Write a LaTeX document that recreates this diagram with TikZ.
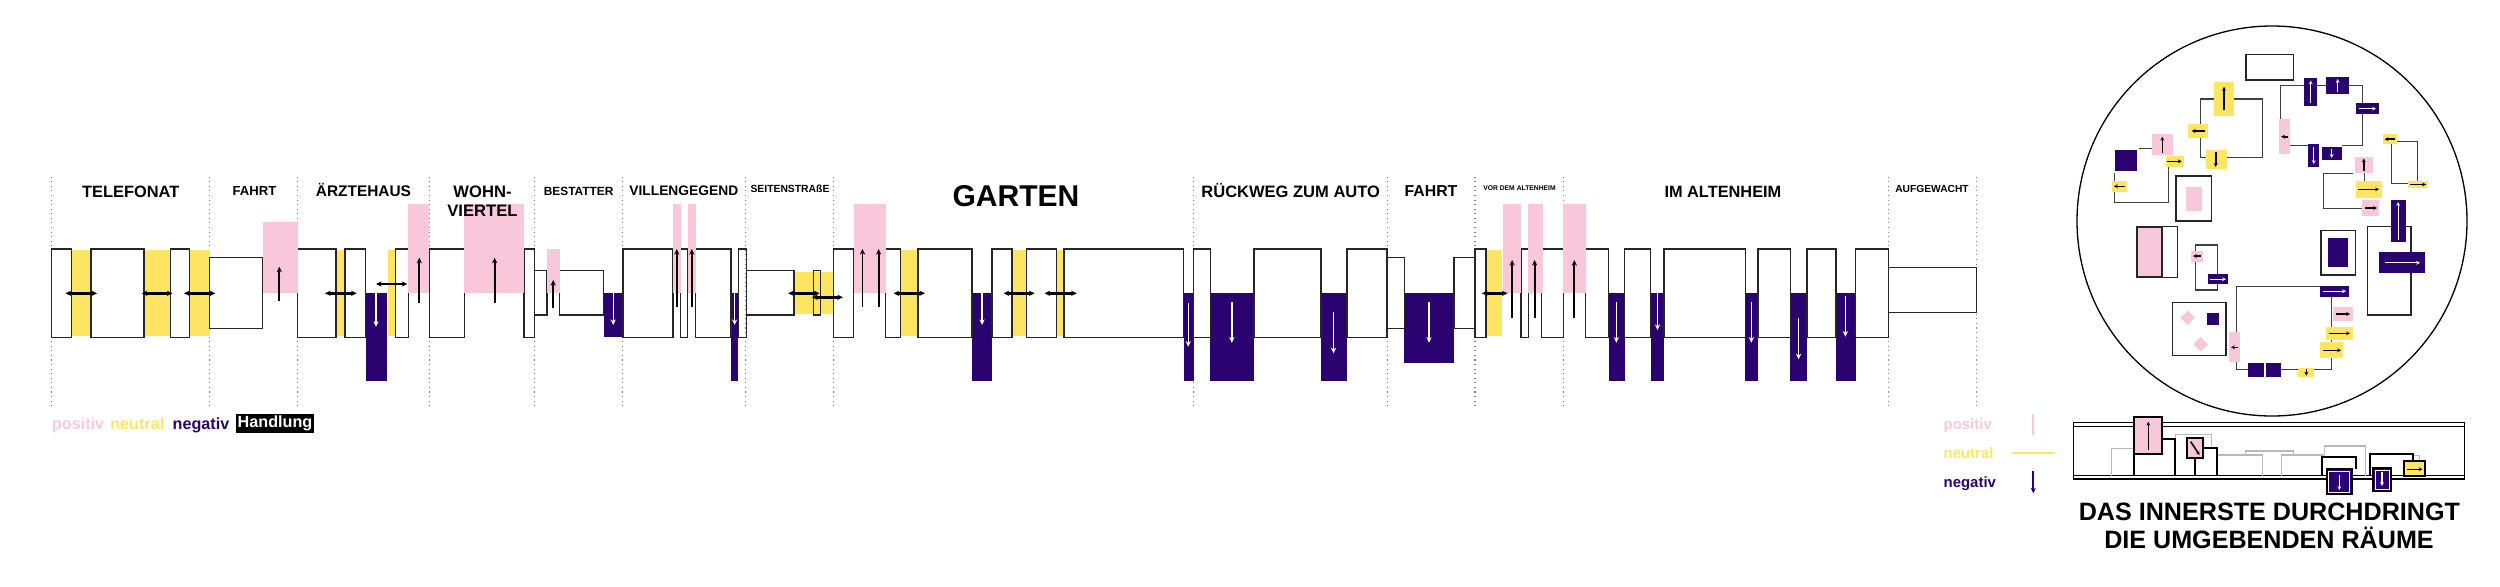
\documentclass[tikz,border=0pt]{standalone}
\usepackage{fontspec}
\setmainfont{Liberation Sans}
\usetikzlibrary{arrows.meta}
\definecolor{pinkc}{RGB}{248,199,217}
\definecolor{yelc}{RGB}{253,229,99}
\definecolor{navyc}{RGB}{42,3,112}
\begin{document}
\begin{tikzpicture}[x=0.2mm,y=-0.2mm,>={Stealth[length=3.2pt,width=3pt]},
    box/.style={draw=black!85,line width=0.75pt},
    posfill/.style={fill=pinkc},
    neufill/.style={fill=yelc},
    negfill/.style={fill=navyc},
    sep/.style={gray,dotted,line width=0.6pt},
    hand/.style={<->,line width=1.4pt},
    upar/.style={->,line width=1.1pt},
    wdn/.style={->,white,line width=0.8pt},
    link/.style={draw=black!75,line width=0.6pt},
    carr/.style={->,line width=0.9pt,>={Stealth[length=2.2pt,width=2.2pt]}},
    cwarr/.style={->,white,line width=0.7pt,>={Stealth[length=2.2pt,width=2.2pt]}},
    lbl/.style={font=\fontsize{#1}{#1}\selectfont\bfseries,inner sep=0pt,anchor=base}]
    \useasboundingbox (0,0) rectangle (2500,586);
    % separators
    \foreach \x in {51.8,209.6,297.8,429.3,534.6,622.9,745.4,833.6,1193.6,1387.1,1475,1563.2,1888.2,1976.4}
      \draw[sep] (\x,176.7) -- (\x,406);
    % neutral and negative
    \foreach \a/\b in {71.8/91.1,143.9/170.4,189.6/209.6,336/345,387.7/395.7,900.7/917.9,1012.1/1026.4,1056.8/1063.9,1487/1502}
      \fill[neufill] (\a,250) rectangle (\b,335.7);
    \fill[neufill] (794,271.7) rectangle (833.6,314);
    \foreach \a/\b in {365.7/386.7,731/738.2,972.1/992.1,1183.6/1193.6,1210.4/1253.9,1321/1347.1,1608.6/1624.6,1650.7/1663.9,1745.4/1757.9,1790.4/1807.1,1836.1/1855.7}
      \fill[negfill] (\a,293.3) rectangle (\b,381);
    \fill[negfill] (603.6,293.3) rectangle (622.9,337.3);
    \fill[negfill] (1404.3,293.3) rectangle (1453.9,363.3);
    % rooms
    \foreach \a/\b in {51.8/71.8,91.1/143.9,170.4/189.6,297.8/336,345/365.7,395.7/408.3,429.3/464.3,524/534.6,622.9/672.9,680.4/687.5,695.4/731,738.2/746.4,833.6/853.6,885.7/900.7,917.9/972.1,992.1/1012.1,1026.4/1056.8,1063.9/1183.6,1193.6/1210.4,1253.9/1321,1347.1/1387.1,1475/1486,1521/1528.2,1541.8/1563.2,1585.7/1608.6,1624.6/1650.7,1663.9/1745.4,1757.9/1790.4,1807.1/1836.1,1855.7/1888.2}
      \draw[box] (\a,249) rectangle (\b,337.3);
    \foreach \a/\b in {209.6/262.3,1387.1/1404.3,1453.9/1475}
      \draw[box] (\a,257.7) rectangle (\b,328.7);
    \foreach \a/\b in {534.6/547,559.6/603.6,746.4/794,813.2/820.7}
      \draw[box] (\a,270.7) rectangle (\b,315);
    \draw[box] (1888.2,267.3) rectangle (1976.4,312.3);
    % positive
    \foreach \a/\b in {408.3/429.3,464.3/524,672.9/681,687.5/696,853.6/885.7,1502.9/1521,1527.5/1542.5,1563.2/1585.7}
      \fill[posfill] (\a,204.3) rectangle (\b,293.3);
    \fill[posfill] (262.8,222) rectangle (297.7,293.3);
    \fill[posfill] (547,249) rectangle (559.6,293.3);
    % actions
    \foreach \y/\a/\b in {293.3/65.4/97.1,293.3/141.8/172.5,293.3/184/215.4,293.3/325/356.7,284/376/407.3,293.3/788.2/819.6,297.3/812/842.9,293.3/893.6/925,293.3/1003.6/1034.6,293.3/1044.6/1076.8,293.3/1481.8/1507.5}
      \draw[hand] (\a,\y) -- (\b,\y);
    \foreach \x/\a/\b in {279.3/300.7/266.7,419.3/303.3/257.7,494.6/303.3/257.7,553.2/308/280,676.8/306.7/249,691.8/306.7/249,862.5/306.7/249,878.6/306.7/249,1512.1/318.3/260,1534.6/318.3/260,1574.3/318.3/260}
      \draw[upar] (\x,\a) -- (\x,\b);
    \foreach \x/\a/\b in {376/292.7/326.7,613.2/293.3/325,734.6/293.3/325,982.1/293.3/325,1188.2/303.3/346.7,1231.8/301.7/342.7,1333.6/312.3/353.3,1429/301.7/342.7,1616.4/301.7/342.7,1657.5/293.3/330,1751.4/301.7/342.7,1798.6/318.3/359.3,1845.4/295.7/336.7}
      \draw[wdn] (\x,\a) -- (\x,\b);
    % scene titles
    \node[lbl=9.33] (telefonat) at (130.7,197.3) {TELEFONAT};
    \node[lbl=7.45] (fahrta) at (254.5,195.7) {FAHRT};
    \node[lbl=8.77] (aerztehaus) at (363.5,196.9) {ÄRZTEHAUS};
    \node[lbl=9.45] (wohn) at (482.5,197.3) {WOHN-};
    \node[lbl=9.45] (viertel) at (482.4,216) {VIERTEL};
    \node[lbl=6.77] (bestatter) at (578.6,195.7) {BESTATTER};
    \node[lbl=7.85] (villengegend) at (683.8,195.7) {VILLENGEGEND};
    \node[lbl=5.9] (seitenstrasse) at (790,192.3) {SEITENSTRAßE};
    \node[lbl=17.1] (garten) at (1016,206.7) {GARTEN};
    \node[lbl=9.4] (rueckweg) at (1290.7,197.3) {RÜCKWEG ZUM AUTO};
    \node[lbl=9] (fahrtb) at (1431,196.7) {FAHRT};
    \node[lbl=3.85] (vordem) at (1519.5,190) {VOR DEM ALTENHEIM};
    \node[lbl=9.3] (imaltenheim) at (1722.9,197.3) {IM ALTENHEIM};
    \node[lbl=5.83] (aufgewacht) at (1932,192.7) {AUFGEWACHT};
    % legend
    \node[lbl=9.2,text=pinkc,anchor=base west] (positiv) at (51.7,429.3) {positiv};
    \node[lbl=9.2,text=yelc,anchor=base west] (neutral) at (110,429.3) {neutral};
    \node[lbl=9.2,text=navyc,anchor=base west] (negativ) at (172.3,429.3) {negativ};
    \node[lbl=9.2,text=white,fill=black,anchor=center,minimum width=15.6mm,minimum height=3.74mm] (handlung) at (275,423.4) {Handlung};
    \node[lbl=8.5,text=pinkc,anchor=base west] (rpositiv) at (1943.3,429.3) {positiv};
    \node[lbl=8.5,text=yelc,anchor=base west] (rneutral) at (1943.3,458.5) {neutral};
    \node[lbl=8.5,text=navyc,anchor=base west] (rnegativ) at (1943.3,487.5) {negativ};
    \draw[pinkc,line width=1.3pt] (2033.3,414) -- (2033.3,435);
    \draw[yelc,line width=1.3pt] (2011.7,453.3) -- (2055,453.3);
    \draw[navyc,->,line width=1.3pt] (2033.3,471) -- (2033.3,493.3);
    % circle
    \draw[line width=0.75pt] (2272,221) circle[radius=39mm];
    \draw[link] (2214.3,99) -| (2200,157.7) -- (2206,157.7);
    \draw[link] (2234.3,99) -| (2262.3,157.7) -- (2226.7,157.7);
    \draw[link] (2139.3,148.3) -- (2152,148.3);
    \draw[link] (2168.3,166.7) |- (2114.3,202.3) -- (2114.3,173.3);
    \draw[link] (2195,250.7) |- (2217.7,245) -- (2217.7,274);
    \draw[link] (2195,261.7) |- (2217.7,290) -- (2217.7,284.3);
    \draw[link] (2236.7,332.3) |- (2320,286.5);
    \draw[link] (2236.7,361.7) |- (2248.3,369.3);
    \draw[link] (2281,369.3) -- (2298.3,369.3);
    \draw[link] (2314.3,369.3) -| (2331.7,358.3);
    \draw[link] (2331.7,296.7) -- (2331.7,342.3);
    \draw[link] (2353.3,173.3) -| (2323.3,208.3) -- (2362.3,208.3);
    \draw[link] (2364,172.7) -- (2364,181);
    \draw[link] (2396.7,141.7) -| (2417.3,180.7);
    \draw[link] (2391.7,144) |- (2408.3,183.3);
    \draw[link] (2317.3,85.7) -- (2326,85.7);
    \draw[link] (2349.3,85.7) -| (2362.3,103.3);
    \draw[link] (2362.3,114) |- (2341.7,145.7);
    \draw[link] (2304,85.7) -| (2280.7,119.3);
    \draw[link] (2290,145.7) -- (2308.3,145.7);
    \draw[box] (2246,54.7) rectangle (2293.3,80);
    \draw[box] (2176,176) rectangle (2211.7,221);
    \draw[box] (2172.3,302.3) rectangle (2226,355.7);
    \draw[box] (2321,230.7) rectangle (2355.7,275);
    \draw[box] (2161.7,226.7) rectangle (2177.7,277.3);
    \draw[box] (2367.3,226.7) rectangle (2411,315);
    \fill[posfill] (2186,186.7) rectangle (2202.3,211);
    \filldraw[posfill,draw=black!85,line width=1.2pt] (2136.7,226.7) rectangle (2161.7,277.3);
    \fill[negfill] (2328.3,238.3) rectangle (2348.3,266.7);
    \fill[posfill] (2187.7,310.4) -- (2195,317.7) -- (2187.7,325) -- (2180.4,317.7) -- cycle;
    \fill[posfill] (2200.7,337) -- (2208,344.3) -- (2200.7,351.6) -- (2193.4,344.3) -- cycle;
    \fill[negfill] (2207.3,313.3) rectangle (2218.7,325);
    % yellow rooms in the circle
    \fill[neufill] (2214.3,82) rectangle (2234.3,115.7);
    \draw[carr] (2224,110) -- (2224,86.7);
    \fill[neufill] (2188.3,124.3) rectangle (2208.3,138.3);
    \draw[carr] (2205,131) -- (2191.7,131);
    \fill[neufill] (2206,150) rectangle (2226.7,169);
    \draw[carr] (2215.7,152) -- (2215.7,167);
    \fill[neufill] (2166,156) rectangle (2184,166.7);
    \draw[carr] (2167.3,161.3) -- (2181.7,161.3);
    \fill[neufill] (2112.3,181) rectangle (2127.3,191.7);
    \draw[carr] (2125,186.3) -- (2114,186.3);
    \fill[neufill] (2298.3,367.7) rectangle (2314.3,376.7);
    \draw[carr] (2306.3,368.7) -- (2306.3,375.7);
    \fill[neufill] (2320,342.3) rectangle (2343.3,358.3);
    \draw[carr] (2323,350.3) -- (2341,350.3);
    \fill[neufill] (2326,326.7) rectangle (2352.7,340);
    \draw[carr] (2329,333.3) -- (2350,333.3);
    \fill[neufill] (2355.7,181) rectangle (2381.7,197.7);
    \draw[carr] (2358,189.3) -- (2379,189.3);
    \fill[neufill] (2382.7,134.3) rectangle (2396.7,144);
    \draw[carr] (2395,139.2) -- (2384.5,139.2);
    \fill[neufill] (2408.3,180.7) rectangle (2427.7,188.3);
    \draw[carr] (2410,184.5) -- (2426,184.5);
    % pink rooms in the circle
    \fill[posfill] (2152,134) rectangle (2172.7,155);
    \draw[carr] (2162.3,152.7) -- (2162.3,136.7);
    \fill[posfill] (2191,250.7) rectangle (2202.7,261.7);
    \draw[carr] (2200.7,256) -- (2193,256);
    \fill[posfill] (2229,332.3) rectangle (2240,361.7);
    \draw[carr] (2238,347.3) -- (2231,347.3);
    \fill[posfill] (2332.7,307.3) rectangle (2352.7,320.7);
    \draw[carr] (2336,314) -- (2350,314);
    \fill[posfill] (2355,156.7) rectangle (2372.7,172.7);
    \draw[carr] (2363.8,170.5) -- (2363.8,158.5);
    \fill[posfill] (2362.3,200) rectangle (2379,216);
    \draw[carr] (2365,208) -- (2377,208);
    \fill[posfill] (2279.3,119.3) rectangle (2290,154);
    \draw[carr] (2288,136.7) -- (2281,136.7);
    % navy rooms in the circle
    \fill[negfill] (2115.3,150) rectangle (2137.3,171);
    \fill[negfill] (2207.7,274) rectangle (2228.3,284.3);
    \draw[cwarr] (2210,279.2) -- (2226,279.2);
    \fill[negfill] (2320,285.7) rectangle (2349.3,296.7);
    \draw[cwarr] (2323,291.2) -- (2346,291.2);
    \fill[negfill] (2248.3,363.3) rectangle (2264,376.7);
    \fill[negfill] (2265.7,363.3) rectangle (2281,376.7);
    \fill[negfill] (2390.7,200) rectangle (2405.7,242.3);
    \draw[cwarr] (2398.2,240) -- (2398.2,202);
    \fill[negfill] (2379.3,252.3) rectangle (2425,273.3);
    \draw[cwarr] (2385,262.8) -- (2420,262.8);
    \fill[negfill] (2304,77.7) rectangle (2317.3,106);
    \draw[cwarr] (2310.7,103) -- (2310.7,80.5);
    \fill[negfill] (2326,76.7) rectangle (2349.3,94);
    \draw[cwarr] (2337.7,92) -- (2337.7,79);
    \fill[negfill] (2355.7,103.3) rectangle (2379,114);
    \draw[cwarr] (2359,108.7) -- (2376,108.7);
    \fill[negfill] (2308.3,144) rectangle (2319.3,166.7);
    \draw[cwarr] (2313.8,146.5) -- (2313.8,164);
    \fill[negfill] (2321.7,146.7) rectangle (2341.7,160);
    \draw[cwarr] (2331.7,148.5) -- (2331.7,158);
    % section
    \draw[line width=0.7pt] (2073.3,422.3) rectangle (2464.3,479);
    \draw[line width=0.7pt] (2073.3,426.3) -- (2464.3,426.3);
    \draw[line width=0.7pt] (2073.3,475.7) -- (2464.3,475.7);
    \begin{scope}[gray!55,line width=0.6pt]
      \draw (2111.7,475.7) |- (2134,448.3);
      \draw (2175,439.3) |- (2211,434.3) -- (2211,448.3);
      \draw (2216.7,455) -| (2262.3,475.7);
      \draw (2245,455) |- (2293.3,451) -- (2293.3,455);
      \draw (2281.7,475.7) |- (2324.3,455);
      \draw (2324.3,455) |- (2365.7,446) -- (2365.7,475.7);
      \draw (2413.3,455.7) -| (2419.3,461);
    \end{scope}
    \begin{scope}[black,line width=1.2pt]
      \draw (2134,454.3) -- (2134,475.7);
      \draw (2161.7,439.3) -| (2175,475.7);
      \draw (2195,458.3) -- (2195,475.7);
      \draw (2203.3,448.3) -| (2216.7,475.7);
      \draw (2322.3,475.7) |- (2356,457.3) -- (2356,469.3);
      \draw (2370,475.7) |- (2413.3,454) -- (2413.3,461);
    \end{scope}
    \filldraw[posfill,draw=black,line width=1.2pt] (2134,417.3) rectangle (2161.7,454.3);
    \draw[carr] (2148.3,450) -- (2148.3,421.7);
    \filldraw[posfill,draw=black,line width=1.1pt] (2186.7,438.3) rectangle (2203.3,458.3);
    \draw[carr] (2190.7,441.7) -- (2199.5,455);
    \filldraw[negfill,draw=black,line width=1.1pt] (2326.7,469.3) rectangle (2351.7,494.3);
    \draw[white,line width=0.3pt] (2328.7,471.3) rectangle (2349.7,492.3);
    \draw[cwarr] (2339.3,475) -- (2339.3,490);
    \filldraw[negfill,draw=black,line width=1.1pt] (2373.3,468.3) rectangle (2390.7,490.7);
    \draw[white,line width=0.3pt] (2375.1,470.1) rectangle (2388.9,488.9);
    \draw[cwarr] (2382,472) -- (2382,486);
    \filldraw[neufill,draw=black,line width=1.1pt] (2404.3,461) rectangle (2425,475.7);
    \draw[carr] (2407,469.3) -- (2422.5,469.3);
    \node[lbl=14.3] (titlea) at (2269.4,520) {DAS INNERSTE DURCHDRINGT};
    \node[lbl=14.3] (titleb) at (2269,548.3) {DIE UMGEBENDEN RÄUME};
\end{tikzpicture}
\end{document}
